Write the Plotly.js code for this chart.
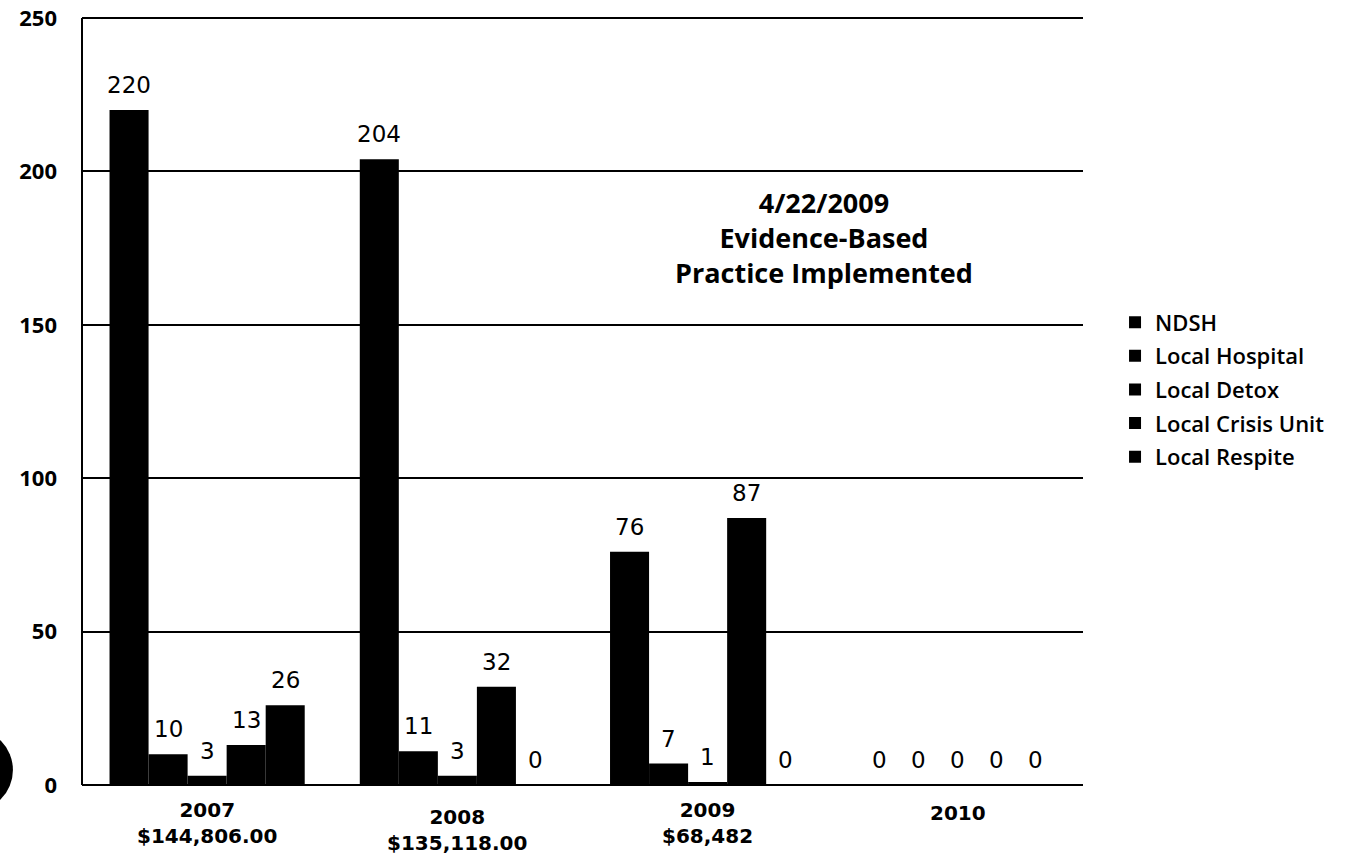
<!DOCTYPE html>
<html>
<head>
<meta charset="utf-8">
<script src="https://cdn.plot.ly/plotly-3.0.1.min.js"></script>
<style>
  html, body { margin: 0; padding: 0; background: #ffffff; }
  #chart { width: 1361px; height: 855px; }
</style>
</head>
<body>
<div id="chart"></div>
<script>
// Admissions by placement type, per year
const years = ['2007', '2008', '2009', '2010'];
const yearCosts = ['$144,806.00', '$135,118.00', '$68,482', ''];
const seriesNames = ['NDSH', 'Local Hospital', 'Local Detox', 'Local Crisis Unit', 'Local Respite'];
const ndsh = [220, 204, 76, 0];
const localHospital = [10, 11, 7, 0];
const localDetox = [3, 3, 1, 0];
const localCrisisUnit = [13, 32, 87, 0];
const localRespite = [26, 0, 0, 0];
const yTicks = [0, 50, 100, 150, 200, 250];
const noteText = '4/22/2009<br>Evidence-Based<br>Practice Implemented';

const seriesValues = [ndsh, localHospital, localDetox, localCrisisUnit, localRespite];

// bars of one year sit side by side inside this share of the category slot
const groupWidth = 0.78;
const barWidth = groupWidth / seriesValues.length;

const traces = seriesValues.map((vals, i) => ({
  type: 'bar',
  name: seriesNames[i],
  legendgroup: 'g' + i,
  x: years,
  y: vals,
  width: barWidth,
  offset: -groupWidth / 2 + i * barWidth,
  marker: { color: '#000000', line: { width: 0 } },
  hoverinfo: 'skip'
}));

// value labels above each bar
const valueLabels = [];
seriesValues.forEach((vals, i) => {
  vals.forEach((v, k) => {
    valueLabels.push({
      x: k - groupWidth / 2 + (i + 0.5) * barWidth,
      y: v,
      xref: 'x', yref: 'y',
      text: String(v),
      showarrow: false,
      yanchor: 'bottom',
      yshift: 10,
      font: { family: 'DejaVu Sans', size: 23, color: '#000000' }
    });
  });
});

// two-line category labels under the axis
const labelDrop = { '2008': -18, '2010': -14 };
const categoryLabels = years.map((yr, k) => ({
  x: k, y: 0, xref: 'x', yref: 'y',
  text: yearCosts[k] ? yr + '<br>' + yearCosts[k] : yr,
  showarrow: false,
  yanchor: 'top',
  yshift: labelDrop[yr] !== undefined ? labelDrop[yr] : -11,
  font: { family: 'DejaVu Sans', size: 20, weight: 'bold', color: '#000000' }
}));

const note = {
  x: 0.741, y: 0.711, xref: 'paper', yref: 'paper',
  text: noteText,
  showarrow: false,
  xanchor: 'center', yanchor: 'middle',
  align: 'center',
  font: { family: 'Open Sans', size: 27, weight: 'bold', color: '#000000' }
};

const layout = {
  width: 1361,
  height: 855,
  margin: { l: 82, r: 278, t: 15, b: 70, pad: 0 },
  paper_bgcolor: '#ffffff',
  plot_bgcolor: '#ffffff',
  barmode: 'overlay',
  showlegend: true,
  legend: {
    x: 1.032, xanchor: 'left',
    y: 0.628, yanchor: 'top',
    tracegroupgap: 2,
    font: { family: 'Open Sans', size: 22, weight: 600, color: '#000000' },
    bgcolor: 'rgba(0,0,0,0)'
  },
  xaxis: {
    type: 'category',
    categoryorder: 'array',
    categoryarray: years,
    range: [-0.5, years.length - 0.5],
    showticklabels: false,
    showgrid: false,
    zeroline: false,
    showline: false,
    ticks: '',
    fixedrange: true
  },
  yaxis: {
    range: [0, 251],
    tickvals: yTicks,
    showgrid: true,
    gridcolor: '#000000',
    gridwidth: 2,
    zeroline: true,
    zerolinecolor: '#000000',
    zerolinewidth: 2,
    showline: false,
    ticks: '',
    ticklabelstandoff: 24,
    ticklabeloverflow: 'allow',
    tickfont: { family: 'Open Sans', size: 22, weight: 'bold', color: '#000000' },
    fixedrange: true
  },
  annotations: valueLabels.concat(categoryLabels, [note]),
  shapes: [
    // left axis line, running from zero up to the top gridline
    {
      type: 'line',
      xref: 'paper', yref: 'y',
      x0: 0, x1: 0, y0: 0, y1: yTicks[yTicks.length - 1],
      line: { color: '#000000', width: 2 }
    },
    {
      type: 'circle',
      xref: 'paper', yref: 'paper',
      x0: -0.151, x1: -0.069,
      y0: -0.034, y1: 0.073,
      fillcolor: '#000000',
      line: { width: 0 },
      layer: 'above'
    }
  ]
};

Plotly.newPlot('chart', traces, layout, { displayModeBar: false, staticPlot: true });
</script>
</body>
</html>
